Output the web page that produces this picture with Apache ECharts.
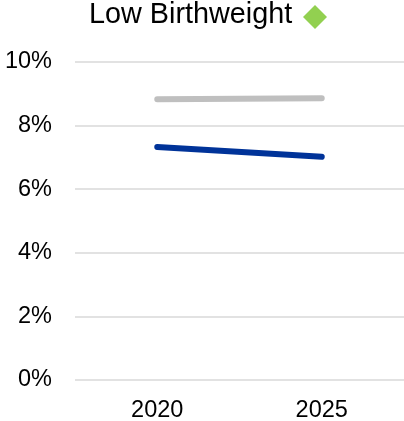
<!DOCTYPE html>
<html>
<head>
<meta charset="utf-8">
<title>Low Birthweight</title>
<script src="https://cdn.jsdelivr.net/npm/echarts@6/dist/echarts.min.js"></script>
<style>
    html, body { margin: 0; padding: 0; background: #fff; }
    #chart-line { width: 404px; height: 421px; }
</style>
</head>
<body>
<div id="chart-line"></div>
<script>
// years on the x axis
var years = ['2020', '2025'];
// values in percent
var greyValues = [8.83, 8.86];
var blueValues = [7.33, 7.02];
var yTicks = [0, 2, 4, 6, 8, 10];

var fontName = '"Liberation Sans", Arial, sans-serif';

function lineSeries(name, values, color) {
    return {
        type: 'line',
        name: name,
        data: values,
        showSymbol: false,
        symbol: 'none',
        lineStyle: {
            color: color,
            width: 6,
            cap: 'round'
        },
        silent: true
    };
}

var myChart = echarts.init(document.getElementById('chart-line'));
var option = {
    animation: false,
    backgroundColor: '#fff',
    title: {
        text: 'Low Birthweight',
        left: 89,
        top: 1,
        padding: 0,
        textStyle: {
            fontFamily: fontName,
            fontSize: 28.8,
            fontWeight: 'normal',
            color: '#000'
        }
    },
    graphic: [{
        type: 'rect',
        x: 315,
        y: 17,
        rotation: Math.PI / 4,
        shape: { x: -8.5, y: -8.5, width: 17, height: 17 },
        style: { fill: '#92D050' }
    }],
    grid: {
        left: 75,
        right: 0,
        top: 62,
        bottom: 41,
        containLabel: false,
        outerBoundsMode: 'none'
    },
    xAxis: {
        type: 'category',
        boundaryGap: true,
        data: years,
        axisLine: { show: false },
        axisTick: { show: false },
        splitLine: { show: false },
        axisLabel: {
            margin: 19,
            fontFamily: fontName,
            fontSize: 23.5,
            color: '#000'
        }
    },
    yAxis: {
        type: 'value',
        min: yTicks[0],
        max: yTicks[yTicks.length - 1],
        interval: yTicks[1] - yTicks[0],
        axisLine: { show: false },
        axisTick: { show: false },
        splitLine: {
            lineStyle: {
                color: '#d9d9d9',
                width: 1.5
            }
        },
        axisLabel: {
            margin: 23,
            fontFamily: fontName,
            fontSize: 23.5,
            color: '#000',
            formatter: '{value}%'
        }
    },
    series: [
        lineSeries('Comparison', greyValues, '#BFBFBF'),
        lineSeries('Low Birthweight', blueValues, '#003399')
    ]
};
myChart.setOption(option);
</script>
</body>
</html>
